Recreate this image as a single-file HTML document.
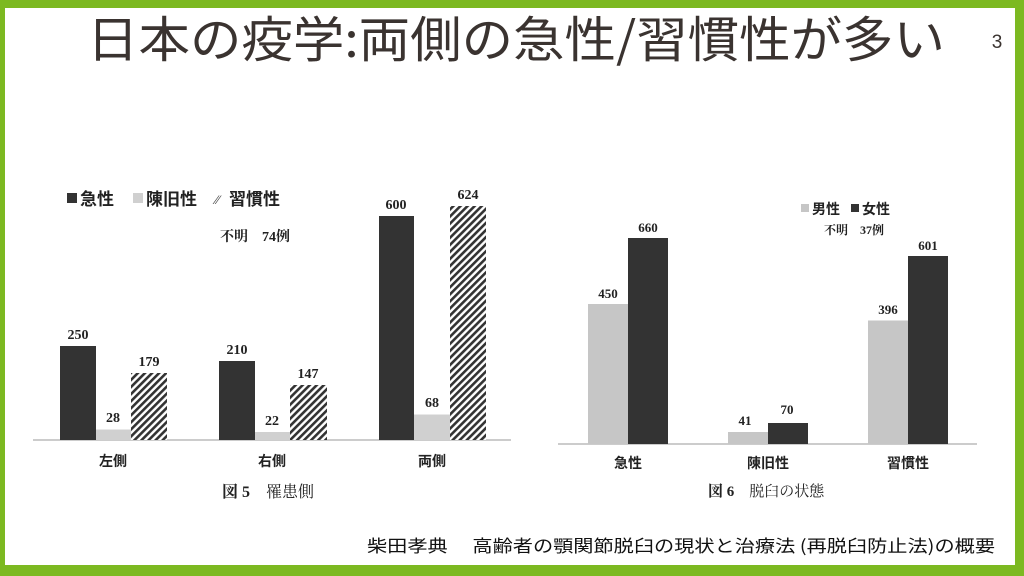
<!DOCTYPE html>
<html><head><meta charset="utf-8"><style>
html,body{margin:0;padding:0;width:1024px;height:576px;overflow:hidden;background:#7cb921}
svg{display:block}
</style></head><body>
<svg width="1024" height="576" xmlns="http://www.w3.org/2000/svg">
<defs>
<pattern id="h" width="5" height="5" patternUnits="userSpaceOnUse" patternTransform="rotate(45)">
<rect width="5" height="5" fill="#fff"/><rect width="2.6" height="5" fill="#333"/>
</pattern>
</defs>
<rect x="0" y="0" width="1024" height="576" fill="#7cb921"/>
<rect x="5" y="8" width="1010" height="557" fill="#fff"/>
<text x="516" y="57" text-anchor="middle" font-family="'Noto Sans CJK JP',sans-serif" font-size="49" fill="#3a3330" textLength="858" lengthAdjust="spacingAndGlyphs">日本の疫学:両側の急性/習慣性が多い</text>
<text x="997" y="48" text-anchor="middle" font-family="'Liberation Sans',sans-serif" font-size="19" fill="#3a3330">3</text>

<g font-family="'Liberation Serif','Noto Serif CJK SC',serif" font-weight="bold" fill="#222">
<!-- chart 1 -->
<line x1="33" y1="440" x2="511" y2="440" stroke="#bbb" stroke-width="1.5"/>
<rect x="60" y="346" width="36" height="94" fill="#333"/>
<rect x="96" y="429.5" width="35" height="10.5" fill="#d0d0d0"/>
<rect x="131" y="373" width="36" height="67" fill="url(#h)"/>
<rect x="219" y="361" width="36" height="79" fill="#333"/>
<rect x="255" y="432" width="35" height="8" fill="#d0d0d0"/>
<rect x="290" y="385" width="37" height="55" fill="url(#h)"/>
<rect x="379" y="216" width="35" height="224" fill="#333"/>
<rect x="414" y="414.5" width="36" height="25.5" fill="#d0d0d0"/>
<rect x="450" y="206" width="36" height="234" fill="url(#h)"/>
<g font-size="14" text-anchor="middle">
<text x="78" y="339">250</text><text x="113" y="422">28</text><text x="149" y="366">179</text>
<text x="237" y="354">210</text><text x="272" y="425">22</text><text x="308" y="378">147</text>
<text x="396" y="209">600</text><text x="432" y="407">68</text><text x="468" y="199">624</text>
</g>
<g font-family="'Noto Sans CJK JP',sans-serif" font-size="14" text-anchor="middle">
<text x="113" y="466">左側</text><text x="272" y="466">右側</text><text x="432" y="466">両側</text>
</g>
<rect x="67" y="193" width="10" height="10" fill="#333"/>
<rect x="133" y="193" width="10" height="10" fill="#d0d0d0"/>
<text x="215" y="204" font-size="13" fill="#444">⁄⁄</text>
<g font-family="'Noto Sans CJK JP',sans-serif" font-size="17">
<text x="80" y="205">急性</text><text x="146" y="205">陳旧性</text><text x="229" y="205">習慣性</text>
</g>
<text x="220" y="241" font-size="14">不明　74例</text>
<text x="222" y="497" font-size="16">図 5　<tspan font-weight="normal">罹患側</tspan></text>

<!-- chart 2 -->
<line x1="558" y1="444" x2="977" y2="444" stroke="#bbb" stroke-width="1.5"/>
<rect x="588" y="304" width="40" height="140" fill="#c6c6c6"/>
<rect x="628" y="238" width="40" height="206" fill="#333"/>
<rect x="728" y="432" width="40" height="12" fill="#c6c6c6"/>
<rect x="768" y="423" width="40" height="21" fill="#333"/>
<rect x="868" y="320.5" width="40" height="123.5" fill="#c6c6c6"/>
<rect x="908" y="256" width="40" height="188" fill="#333"/>
<g font-size="13" text-anchor="middle">
<text x="608" y="298">450</text><text x="648" y="232">660</text>
<text x="745" y="425">41</text><text x="787" y="414">70</text>
<text x="888" y="314">396</text><text x="928" y="250">601</text>
</g>
<g font-family="'Noto Sans CJK JP',sans-serif" font-size="14" text-anchor="middle">
<text x="628" y="468">急性</text><text x="768" y="468">陳旧性</text><text x="908" y="468">習慣性</text>
</g>
<rect x="801" y="204" width="8" height="8" fill="#c6c6c6"/>
<rect x="851" y="204" width="8" height="8" fill="#333"/>
<g font-family="'Noto Sans CJK JP',sans-serif" font-size="14">
<text x="812" y="214">男性</text><text x="862" y="214">女性</text>
</g>
<text x="824" y="234" font-size="12">不明　37例</text>
<text x="708" y="496" font-size="15">図 6　<tspan font-weight="normal">脱臼の状態</tspan></text>
</g>

<text x="367" y="552" font-family="'Noto Sans CJK JP',sans-serif" font-size="17" fill="#111" textLength="628" lengthAdjust="spacingAndGlyphs">柴田孝典　 高齢者の顎関節脱臼の現状と治療法 (再脱臼防止法)の概要</text>
</svg>
</body></html>
